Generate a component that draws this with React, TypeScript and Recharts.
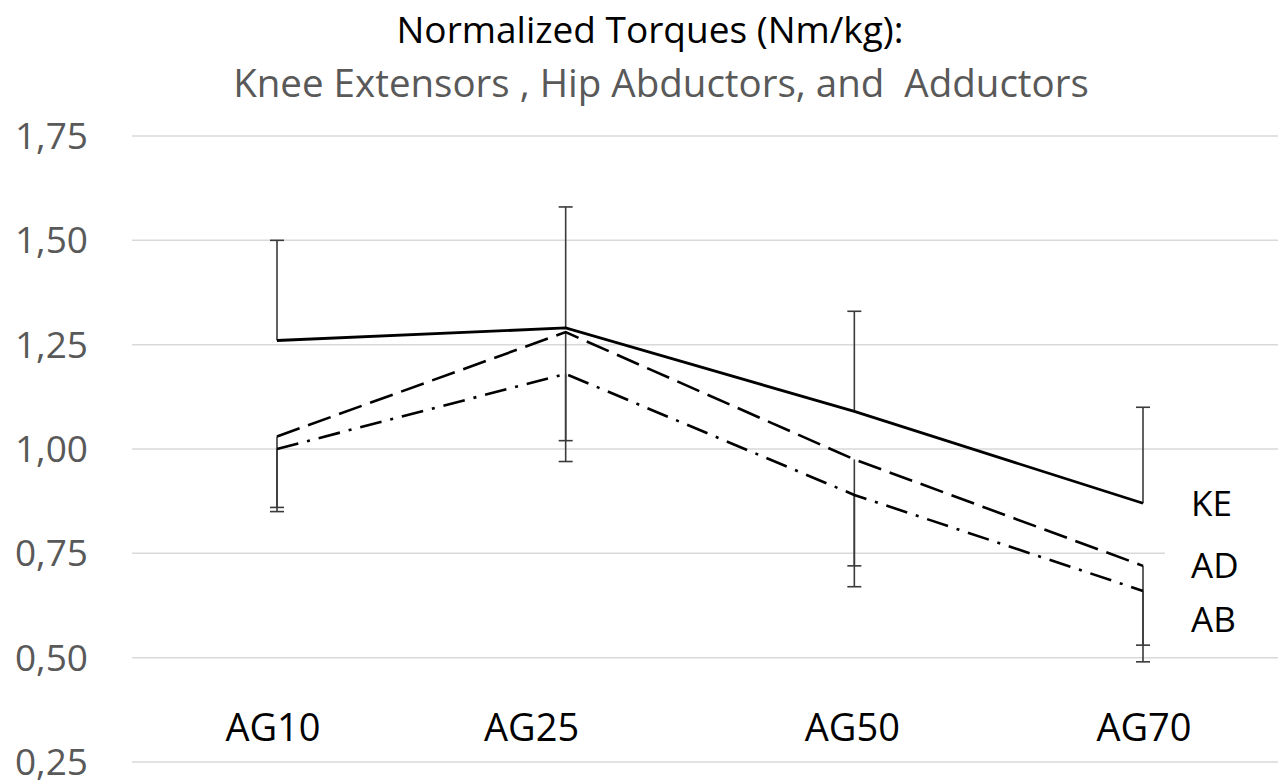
import React from 'react';
import { LineChart, Line, XAxis, YAxis, CartesianGrid, LabelList } from 'recharts';

const categories = ['AG10', 'AG25', 'AG50', 'AG70'];
const keValues = [1.26, 1.29, 1.09, 0.87];
const adValues = [1.03, 1.28, 0.975, 0.72];
const abValues = [1.0, 1.18, 0.89, 0.66];
const keUpper = [1.5, 1.58, 1.33, 1.1];
const adLower = [0.86, 1.02, 0.72, 0.53];
const abLower = [0.85, 0.97, 0.67, 0.49];
const yTicks = [0.25, 0.5, 0.75, 1.0, 1.25, 1.5, 1.75];
const seriesNames = ['KE', 'AD', 'AB'];
const titleLines = ['Normalized Torques (Nm/kg):', 'Knee Extensors , Hip Abductors, and  Adductors'];

const data = categories.map((c, i) => ({ age: c, KE: keValues[i], AD: adValues[i], AB: abValues[i] }));

const stems: { id: string; data: { age: string; v: number }[] }[] = [];
categories.forEach((c, i) => {
  stems.push({ id: `ke-${i}`, data: [{ age: c, v: keValues[i] }, { age: c, v: keUpper[i] }] });
  stems.push({ id: `ad-${i}`, data: [{ age: c, v: adValues[i] }, { age: c, v: adLower[i] }] });
  stems.push({ id: `ab-${i}`, data: [{ age: c, v: abValues[i] }, { age: c, v: abLower[i] }] });
});

const FONT = '"Open Sans", "Noto Sans", sans-serif';
const tickShift = [-4, -34, -2, 1];

const XTick = (props: any) => {
  const { x, y, payload } = props;
  const i = categories.indexOf(payload.value);
  return (
    <text x={x + (tickShift[i] || 0)} y={y - 21} textAnchor="middle" fontFamily={FONT} fontSize={38} fill="#000">
      {payload.value}
    </text>
  );
};

const capDot = (props: any) => {
  const { cx, cy, index, key } = props;
  if (index !== 1) return <g key={key} />;
  return <line key={key} x1={cx - 7} x2={cx + 7} y1={cy} y2={cy} stroke="#3a3a3a" strokeWidth={1.6} />;
};

const makeLabel = (name: string, dy: number) => (props: any) => {
  const { x, y, index } = props;
  if (index !== categories.length - 1) return null;
  return (
    <g>
      <rect x={x + 22} y={y + dy - 22} width={140} height={44} fill="#fff" />
      <text x={x + 48} y={y + dy} dy="0.355em" fontFamily={FONT} fontSize={35} fill="#000">
        {name}
      </text>
    </g>
  );
};

const fmt = (v: number) => v.toFixed(2).replace('.', ',');

export default function App() {
  return (
    <div style={{ position: 'absolute', left: 0, top: 0, width: 1278, height: 780, background: '#fff' }}>
      <LineChart
        width={1278}
        height={780}
        data={data}
        margin={{ top: 136, right: 0, bottom: 0, left: 0 }}
      >
        <CartesianGrid horizontal vertical={false} stroke="#d9d9d9" strokeWidth={1.5} />
        <XAxis
          dataKey="age"
          type="category"
          scale="point"
          allowDuplicatedCategory={false}
          ticks={categories}
          padding={{ left: 145, right: 135 }}
          height={18}
          axisLine={false}
          tickLine={false}
          tickSize={0}
          tickMargin={0}
          tick={<XTick />}
          interval={0}
        />
        <YAxis
          type="number"
          domain={[0.25, 1.75]}
          ticks={yTicks}
          width={132}
          axisLine={false}
          tickLine={false}
          tickSize={0}
          tickMargin={44}
          tickFormatter={fmt}
          tick={{ fontFamily: FONT, fontSize: 37, fill: '#595959' }}
          interval={0}
        />
        {stems.map((s) => (
          <Line
            key={s.id}
            data={s.data}
            dataKey="v"
            stroke="#3a3a3a"
            strokeWidth={1.6}
            dot={capDot}
            activeDot={false}
            isAnimationActive={false}
            legendType="none"
          />
        ))}
        <Line dataKey="KE" stroke="#000" strokeWidth={2.8} dot={false} activeDot={false} isAnimationActive={false}>
          <LabelList dataKey="KE" content={makeLabel(seriesNames[0], 0)} />
        </Line>
        <Line dataKey="AD" stroke="#000" strokeWidth={2.6} strokeDasharray="24 9" dot={false} activeDot={false} isAnimationActive={false}>
          <LabelList dataKey="AD" content={makeLabel(seriesNames[1], 0)} />
        </Line>
        <Line dataKey="AB" stroke="#000" strokeWidth={2.6} strokeDasharray="22 9 3 9" dot={false} activeDot={false} isAnimationActive={false}>
          <LabelList dataKey="AB" content={makeLabel(seriesNames[2], 29)} />
        </Line>
      </LineChart>
      <svg width={1278} height={110} style={{ position: 'absolute', left: 0, top: 0 }}>
        <text x={650} y={43} textAnchor="middle" fontFamily={FONT} fontSize={37} fill="#000" style={{ whiteSpace: 'pre' }}>
          {titleLines[0]}
        </text>
        <text x={661} y={97} textAnchor="middle" fontFamily={FONT} fontSize={38.5} fill="#595959" style={{ whiteSpace: 'pre' }}>
          {titleLines[1]}
        </text>
      </svg>
    </div>
  );
}
